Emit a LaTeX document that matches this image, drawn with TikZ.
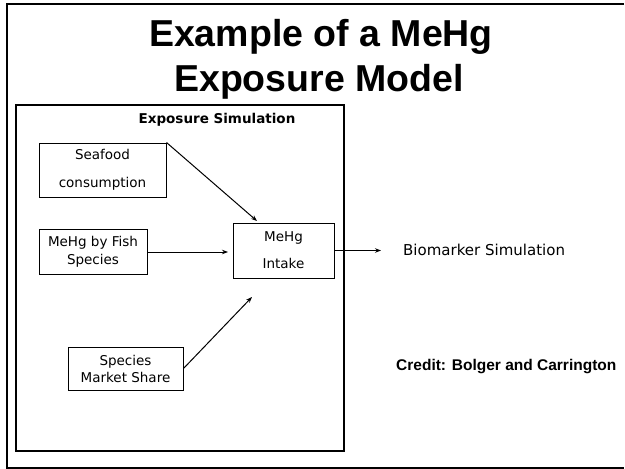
\documentclass[tikz,border=0pt]{standalone}
\usepackage{fontspec}
\setmainfont{DejaVu Sans}
\newfontfamily\titlefont{Liberation Sans}
\usetikzlibrary{arrows.meta}
\begin{document}
\begin{tikzpicture}[x=1pt,y=-1pt,
  frameline/.style={line width=1.1pt},
  boxnode/.style={draw, line width=1pt, inner sep=0pt, align=center},
  boxtext/.style={font=\fontsize{13.5}{#1}\selectfont},
  arr/.style={line width=1pt, -{Stealth[length=6pt,width=4.5pt]}},
  titletext/.style={font=\titlefont\bfseries\fontsize{37.5}{40}\selectfont, inner sep=0pt, anchor=base}
]
\useasboundingbox (0,0) rectangle (625,469);
% outer frame
\draw[frameline] (624,4) -- (7,4) -- (7,468) -- (624,468);
% title
\node[titletext] (title1) at (321,46.7) {Example of a MeHg};
\node[titletext] (title2) at (319,91.7) {Exposure Model};
% simulation frame
\node[draw, line width=1.2pt, minimum width=328pt, minimum height=346pt, inner sep=0pt] (sim) at (180,278) {};
\node[font=\bfseries\fontsize{13.5}{16}\selectfont, inner sep=0pt] (simlabel) at (217,120) {Exposure Simulation};
% boxes
\node[boxnode, boxtext=28, minimum width=127pt, minimum height=54pt] (seafood) at (102.5,170) {Seafood\\consumption};
\node[boxnode, boxtext=18, minimum width=108pt, minimum height=45pt] (fish) at (93,252) {MeHg by Fish\\Species};
\node[boxnode, boxtext=27, minimum width=101pt, minimum height=55pt] (intake) at (283.5,250.5) {MeHg\\Intake};
\node[boxnode, boxtext=17, minimum width=115pt, minimum height=43pt] (species) at (125.5,368.5) {Species\\Market Share};
% arrow ends
\coordinate (a1) at (257,221);
\coordinate (a2) at (228,252);
\coordinate (a3) at (252,297);
\coordinate (out) at (381,250.5);
\draw[arr] (seafood.north east) -- (a1);
\draw[arr] (fish.east) -- (a2);
\draw[arr] (species.east) -- (a3);
\draw[arr] (intake.east) -- (out);
% texts right
\node[anchor=west, inner sep=0pt, font=\fontsize{15}{18}\selectfont] (bio) at (403,250) {Biomarker Simulation};
\node[anchor=west, inner sep=0pt, font=\titlefont\bfseries\fontsize{15.5}{18}\selectfont] (credit) at (396,367) {Credit: Bolger and Carrington};
\end{tikzpicture}
\end{document}
